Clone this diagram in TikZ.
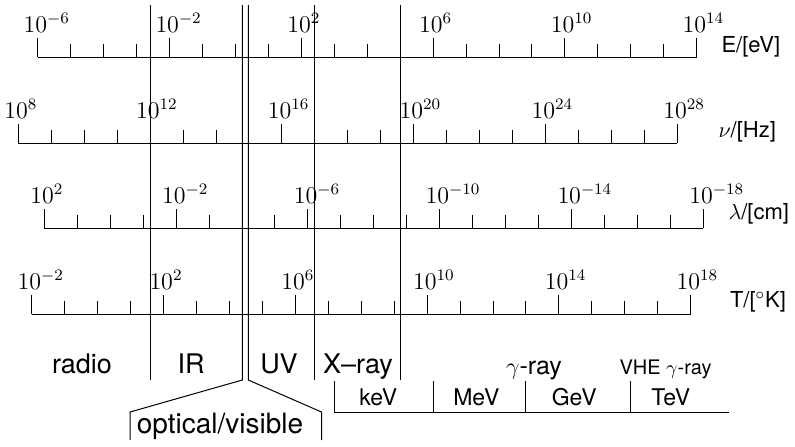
\documentclass[tikz,border=0pt]{standalone}
\usepackage{fontspec}
\setsansfont{TeX Gyre Heros}
\newcommand\scaleaxis[4]{% #1 name, #2 x0, #3 y, #4 exponents
  \draw (#2,#3) coordinate (#1-s) -- ++(659,0) coordinate (#1-e);
  \foreach \i in {0,...,20}{%
    \pgfmathsetmacro\th{mod(\i,4)==0 ? 19 : 13}%
    \draw (#2+32.95*\i,#3) -- ++(0,-\th);}
  \foreach \e [count=\k from 0] in {#4}{%
    \node[expo] (#1-l\k) at (#2+131.8*\k-14.5,#3-25) {$10^{\e}$};}
}
\begin{document}
\begin{tikzpicture}[x=0.5pt,y=-0.5pt,line width=0.5pt,
  expo/.style={anchor=base west,inner sep=0pt,font=\fontsize{11.5}{13}\selectfont},
  unit/.style={anchor=base west,inner sep=0pt,font=\sffamily\fontsize{11}{13}\selectfont},
  region/.style={anchor=base,inner sep=0pt,font=\sffamily\fontsize{13.5}{16}\selectfont},
  band/.style={anchor=base,inner sep=0pt,font=\sffamily\fontsize{11.5}{14}\selectfont}]
\useasboundingbox (0,0) rectangle (795,446);
% scales
\scaleaxis{E}{37.7}{57}{-6,-2,2,6,10,14}
\scaleaxis{nu}{18.3}{143.3}{8,12,16,20,24,28}
\scaleaxis{la}{44.3}{228.3}{2,-2,-6,-10,-14,-18}
\scaleaxis{T}{31.7}{314.3}{-2,2,6,10,14,18}
% unit labels
\node[unit] (uE) at (721,52.5) {E/[eV]};
\node[unit] (unu) at (718,137.5) {$\nu$/[Hz]};
\node[unit] (ula) at (728,219) {$\lambda$/[cm]};
\node[unit] (uT) at (729.5,307) {T/[$^\circ$K]};
% region separators
\coordinate (a1) at (150,5);      \coordinate (a2) at (150,380);
\coordinate (b1) at (242.3,5);    \coordinate (b2) at (242.3,380);
\coordinate (b3) at (130,412);    \coordinate (b4) at (130,440);
\coordinate (c1) at (248.3,5);    \coordinate (c2) at (248.3,380);
\coordinate (c3) at (321.5,412);  \coordinate (c4) at (321.5,440);
\coordinate (d1) at (314.3,5);    \coordinate (d2) at (314.3,380);
\coordinate (e1) at (400,5);      \coordinate (e2) at (400,380);
\draw (a1) -- (a2);
\draw (b1) -- (b2) -- (b3) -- (b4);
\draw (c1) -- (c2) -- (c3) -- (c4);
\draw (d1) -- (d2);
\draw (e1) -- (e2);
% region labels
\node[region] (radio) at (82,373.3) {radio};
\node[region] (ir) at (191,373.3) {IR};
\node[region] (uv) at (279,373.3) {UV};
\node[region] (xray) at (358,373.3) {X--ray};
\node[anchor=base,inner sep=0pt,font=\sffamily\fontsize{14}{16}\selectfont] (opt) at (220,433.3) {optical/visible};
\node[anchor=base,inner sep=0pt,font=\sffamily\fontsize{12.5}{15}\selectfont] (gam) at (534,374.5) {$\gamma$-ray};
\node[anchor=base,inner sep=0pt,font=\sffamily\fontsize{10}{12}\selectfont] (vhe) at (665.5,374.5) {VHE $\gamma$-ray};
% energy bands
\coordinate (k0) at (334.3,380.7); \coordinate (k0b) at (334.3,412.7);
\coordinate (kend) at (729.3,412.7);
\draw (k0) -- (k0b) -- (kend);
\foreach \xx [count=\n] in {433,525.3,630.7}{
  \draw (\xx,380.7) coordinate (t\n) -- (\xx,412.7) coordinate (tb\n);}
\node[band] (kev) at (378.3,405) {keV};
\node[band] (mev) at (476.3,405) {MeV};
\node[band] (gev) at (574.2,405) {GeV};
\node[band] (tev) at (670.8,405) {TeV};
\end{tikzpicture}
\end{document}
